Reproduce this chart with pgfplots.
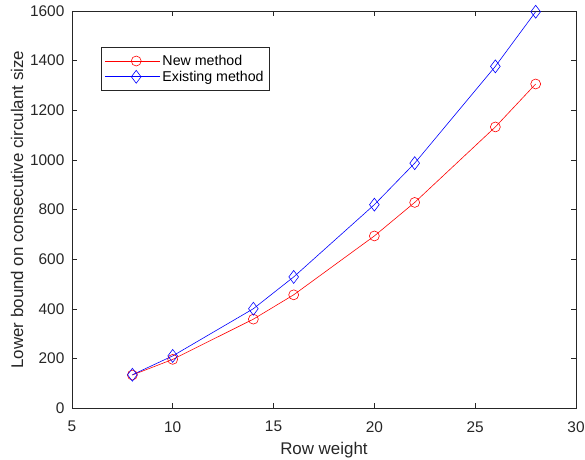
\documentclass[border=0pt]{standalone}
\usepackage{pgfplots}
\pgfplotsset{compat=1.18}
\usepackage{fontspec}
\setmainfont{Liberation Sans}
\definecolor{axgray}{rgb}{0.15,0.15,0.15}
\begin{document}
\begin{tikzpicture}
\begin{axis}[
  at={(0,0)}, anchor=south west,
  scale only axis,
  width=505bp, height=398bp,
  xmin=5, xmax=30, ymin=0, ymax=1600,
  xtick={5,10,...,30},
  ytick={0,200,...,1600},
  tick align=inside,
  major tick length=5bp,
  axis line style={axgray, line width=0.6pt},
  major tick style={axgray, line width=0.6pt},
  tick label style={font=\fontsize{15.5}{17}\selectfont, text=axgray},
  xticklabel style={yshift=-9.5bp},
  yticklabel style={xshift=-4bp, /pgf/number format/1000 sep={}},
  label style={font=\fontsize{17}{19}\selectfont, text=axgray},
  /pgf/number format/assume math mode=true,
  scaled y ticks=false,
  xlabel={Row weight},
  ylabel={Lower bound on consecutive circulant size},
  xlabel style={yshift=-3.5bp},
  ylabel style={yshift=0pt},
  legend style={at={(0.0574,0.9095)}, anchor=north west, draw=axgray,
    font=\fontsize{14.3}{16}\selectfont, text=black, inner xsep=4pt, inner ysep=6bp,
    row sep=0pt},
  legend cell align=left,
  legend image code/.code={
    \path (-7bp,0bp) -- (0bp,0bp);
    \draw[mark repeat=2,mark phase=2,#1] plot coordinates {(0bp,0bp) (24bp,0bp) (48bp,0bp)};},
]
\addplot[red, mark=o, mark size=5pt, line width=0.6pt] coordinates {
(8,134) (10,197) (14,359) (16,457) (20,694) (22,829) (26,1133) (28,1306)};
\addlegendentry{New method}
\addplot[blue, mark=diamond, mark size=6.5pt, line width=0.6pt] coordinates {
(8,135) (10,211) (14,401) (16,529) (20,820) (22,987) (26,1377) (28,1597)};
\addlegendentry{Existing method}
\end{axis}
\pgfresetboundingbox
\path[use as bounding box] (-72bp,-51bp) rectangle (514bp,409bp);
\end{tikzpicture}
\end{document}
